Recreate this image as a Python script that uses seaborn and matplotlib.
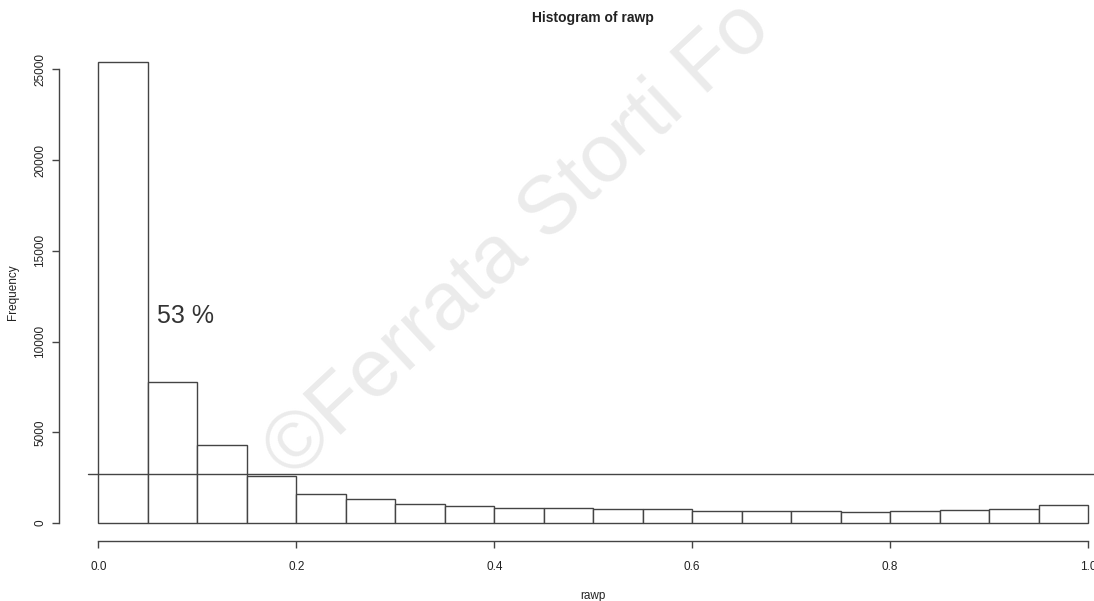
import numpy as np
import matplotlib
matplotlib.use("Agg")
import matplotlib.pyplot as plt
import seaborn as sns

# ---- data ----
bin_edges = [0.00, 0.05, 0.10, 0.15, 0.20, 0.25, 0.30, 0.35, 0.40, 0.45, 0.50,
             0.55, 0.60, 0.65, 0.70, 0.75, 0.80, 0.85, 0.90, 0.95, 1.00]
counts = [25400, 7750, 4280, 2610, 1615, 1320, 1050, 955, 845, 840,
          770, 770, 680, 680, 680, 625, 650, 720, 790, 970]
threshold = 2720
x_ticks = [0.0, 0.2, 0.4, 0.6, 0.8, 1.0]
x_tick_labels = ["0.0", "0.2", "0.4", "0.6", "0.8", "1.0"]
y_ticks = [0, 5000, 10000, 15000, 20000, 25000]
y_tick_labels = ["0", "5000", "10000", "15000", "20000", "25000"]
title = "Histogram of rawp"
x_label = "rawp"
y_label = "Frequency"
note_text = "53 %"
note_pos = (0.088, 11400)
watermark = "\u00a9Ferrata Storti Fo"

sns.set_theme(style="white")
plt.rcParams['font.family'] = ['Liberation Sans', 'DejaVu Sans']

mids = [(bin_edges[i] + bin_edges[i + 1]) / 2 for i in range(len(counts))]

W, H = 1094, 601
fig = plt.figure(figsize=(W / 100, H / 100), dpi=100)
fig.patch.set_facecolor("white")

# watermark (behind everything)
fig.text(292 / W, 1 - 480 / H, watermark, rotation=43, rotation_mode="anchor",
         ha="left", va="baseline", fontsize=59, color="#ebebeb", zorder=0)

ax = fig.add_axes([58.9 / W, 1 - 541.4 / H, 1068.7 / W, 497.6 / H])
ax.patch.set_alpha(0)

line_col = "#444444"
text_col = "#222222"

sns.histplot(x=mids, weights=counts, bins=bin_edges, stat="count",
             color="white", edgecolor=line_col, linewidth=1.0, alpha=1,
             ax=ax)

ax.axhline(threshold, xmin=(-0.011 + 0.04) / 1.08, xmax=1, color=line_col, lw=1.0)

ax.text(note_pos[0], note_pos[1], note_text, ha="center", va="center",
        fontsize=18, color="#333333")

ymax = max(counts)
ax.set_xlim(-0.04, 1.04)
ax.set_ylim(-0.04 * ymax, 1.04 * ymax)

for s in ["top", "right"]:
    ax.spines[s].set_visible(False)
for s in ["left", "bottom"]:
    ax.spines[s].set_visible(True)
    ax.spines[s].set_color(line_col)
    ax.spines[s].set_linewidth(1.0)
ax.spines["left"].set_bounds(y_ticks[0], y_ticks[-1])
ax.spines["bottom"].set_bounds(x_ticks[0], x_ticks[-1])

ax.set_xticks(x_ticks)
ax.set_xticklabels(x_tick_labels)
ax.set_yticks(y_ticks)
ax.set_yticklabels(y_tick_labels, rotation=90, va="center")
ax.tick_params(axis="x", direction="out", length=5, width=1.0, color=line_col,
               labelsize=8.5, labelcolor=text_col, pad=9, bottom=True)
ax.tick_params(axis="y", direction="out", length=5, width=1.0, color=line_col,
               labelsize=8.5, labelcolor=text_col, pad=4, left=True)

ax.set_xlabel(x_label, fontsize=8.5, color=text_col, labelpad=12)
ax.set_ylabel(y_label, fontsize=8.5, color=text_col, labelpad=11)
ax.set_title(title, fontsize=10, fontweight="bold", color=text_col, pad=16)
ax.grid(False)

fig.savefig("out.png", dpi=100, facecolor="white")
